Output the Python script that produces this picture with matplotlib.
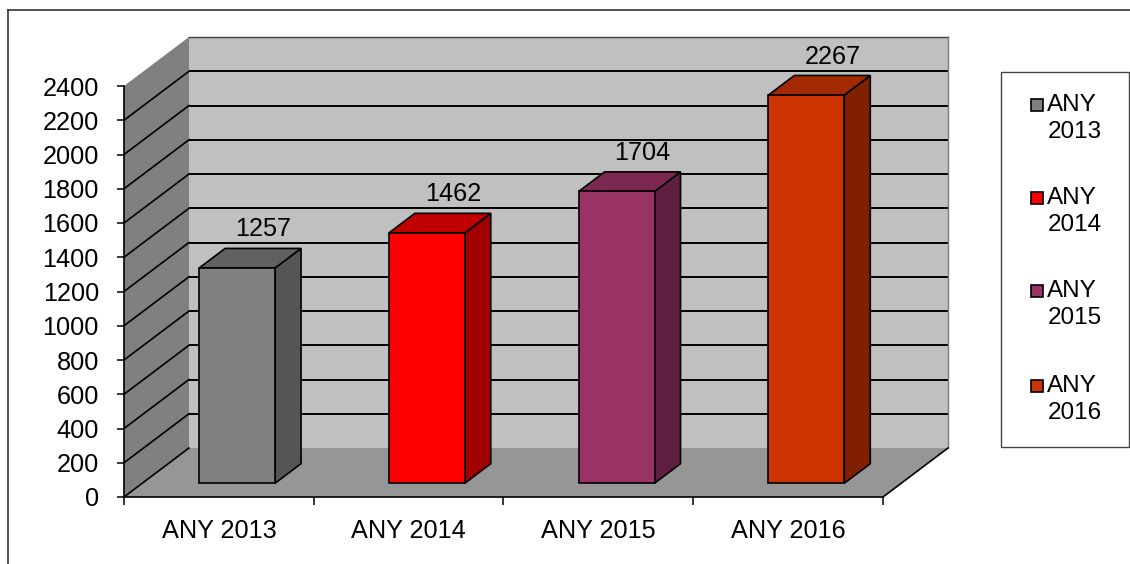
import matplotlib
matplotlib.use("Agg")
import matplotlib.pyplot as plt
from matplotlib.patches import Polygon, Rectangle
from matplotlib.lines import Line2D

plt.rcParams['font.family'] = ['Liberation Sans', 'DejaVu Sans']

# ---- data ----
categories = ["ANY 2013", "ANY 2014", "ANY 2015", "ANY 2016"]
values = [1257, 1462, 1704, 2267]
y_ticks = list(range(0, 2401, 200))
front_colors = ["#808080", "#FF0000", "#993366", "#CC3300"]
top_colors = ["#606060", "#C00000", "#7A2850", "#A32900"]
side_colors = ["#555555", "#A00000", "#5F1F40", "#802000"]

W, H = 1130, 564
fig = plt.figure(figsize=(W / 100, H / 100), dpi=100)
fig.patch.set_facecolor("white")

# axes front plane: x px 124..883, y px 86..497
ax = fig.add_axes([124 / W, (H - 497) / H, 759 / W, 411 / H])
ax.set_xlim(-0.5, 3.5)
ax.set_ylim(0, 2400)
ax.patch.set_visible(False)

DX = 65 / (759 / 4)          # depth offset in x units
DV = 49 / (411 / 2400)       # depth offset in value units
F0, F1 = 0.28, 0.68          # bar front / back depth fractions
BW = 0.40
YMAX = 2400
XL, XR = -0.5, 3.5
FS = 18.2

# back wall
ax.add_patch(Polygon([(XL + DX, DV), (XR + DX, DV), (XR + DX, YMAX + DV), (XL + DX, YMAX + DV)],
                     closed=True, facecolor="#C0C0C0", edgecolor="none", clip_on=False, zorder=0))
# left wall
ax.add_patch(Polygon([(XL, 0), (XL + DX, DV), (XL + DX, YMAX + DV), (XL, YMAX)],
                     closed=True, facecolor="#808080", edgecolor="none", clip_on=False, zorder=0))
# floor
ax.add_patch(Polygon([(XL, 0), (XR, 0), (XR + DX, DV), (XL + DX, DV)],
                     closed=True, facecolor="#969696", edgecolor="none", clip_on=False, zorder=0))

# gridlines on back wall and left wall
for v in y_ticks:
    if 0 < v < YMAX:
        ax.plot([XL + DX, XR + DX], [v + DV, v + DV], color="black", lw=1.4,
                clip_on=False, zorder=1, solid_capstyle="butt")
    if v < YMAX:
        ax.plot([XL, XL + DX], [v, v + DV], color="black", lw=1.2, clip_on=False, zorder=1)
# back wall top edge / right edge, floor right edge
ax.plot([XL + DX, XR + DX], [YMAX + DV, YMAX + DV], color="#404040", lw=1.0, clip_on=False, zorder=1)
ax.plot([XR + DX, XR + DX], [DV, YMAX + DV], color="#7a7a7a", lw=1.0, clip_on=False, zorder=1)
ax.plot([XR, XR + DX], [0, DV], color="black", lw=1.2, clip_on=False, zorder=1)

# bars
xs = [i + F0 * DX for i in range(len(categories))]
ax.bar(xs, values, width=BW, bottom=F0 * DV, color=front_colors, edgecolor="black",
       linewidth=1.2, zorder=3, clip_on=False)
bx = (F1 - F0) * DX
bv = (F1 - F0) * DV
for i, val in enumerate(values):
    x0 = xs[i] - BW / 2
    x1 = xs[i] + BW / 2
    y0 = F0 * DV
    y1 = val + F0 * DV
    ax.add_patch(Polygon([(x1, y0), (x1 + bx, y0 + bv), (x1 + bx, y1 + bv), (x1, y1)], closed=True,
                         facecolor=side_colors[i], edgecolor="black", lw=1.2, clip_on=False, zorder=2))
    ax.add_patch(Polygon([(x0, y1), (x1, y1), (x1 + bx, y1 + bv), (x0 + bx, y1 + bv)], closed=True,
                         facecolor=top_colors[i], edgecolor="black", lw=1.2, clip_on=False, zorder=2))
    ax.annotate(str(val), (xs[i] + bx, y1 + bv), xytext=(0, 5), textcoords="offset points",
                ha="center", va="bottom", fontsize=FS, color="black", annotation_clip=False)

# axes / ticks
for s in ["top", "right"]:
    ax.spines[s].set_visible(False)
for s in ["left", "bottom"]:
    ax.spines[s].set_color("black")
    ax.spines[s].set_linewidth(1.2)
    ax.spines[s].set_zorder(4)
ax.set_yticks(y_ticks)
ax.set_yticklabels([str(t) for t in y_ticks])
ax.tick_params(axis="y", direction="out", length=5, width=1.1, pad=13, labelsize=FS)
ax.set_xticks(range(len(categories)))
ax.set_xticklabels(categories)
ax.set_xticks([i - 0.5 for i in range(len(categories) + 1)], minor=True)
ax.tick_params(axis="x", which="major", length=0, pad=16, labelsize=FS)
ax.tick_params(axis="x", which="minor", direction="out", length=5.5, width=1.1)


def fx(px):
    return px / W


def fy(py):
    return 1 - py / H


# legend (manual)
fig.patches.append(Rectangle((fx(1001), fy(447)), fx(1129) - fx(1001), fy(72) - fy(447),
                             transform=fig.transFigure, facecolor="white", edgecolor="#444444",
                             lw=1.0, zorder=5))
leg_y = [105, 198, 291, 386]
for i, lab in enumerate(categories):
    first, second = lab.split(" ")
    yc = leg_y[i]
    fig.patches.append(Rectangle((fx(1031), fy(yc + 6)), fx(12), 12 / H, transform=fig.transFigure,
                                 facecolor=front_colors[i], edgecolor="black", lw=1.2, zorder=6))
    fig.text(fx(1047), fy(yc), first, ha="left", va="center", fontsize=17.5, zorder=6)
    fig.text(fx(1048), fy(yc + 27), second, ha="left", va="center", fontsize=17.5, zorder=6)

# outer frame
fig.add_artist(Line2D([fx(8), 1], [fy(10), fy(10)], transform=fig.transFigure, color="#333333", lw=1.2))
fig.add_artist(Line2D([fx(8), fx(8)], [fy(10), 0], transform=fig.transFigure, color="#333333", lw=1.2))

fig.savefig("out.png", dpi=100)
